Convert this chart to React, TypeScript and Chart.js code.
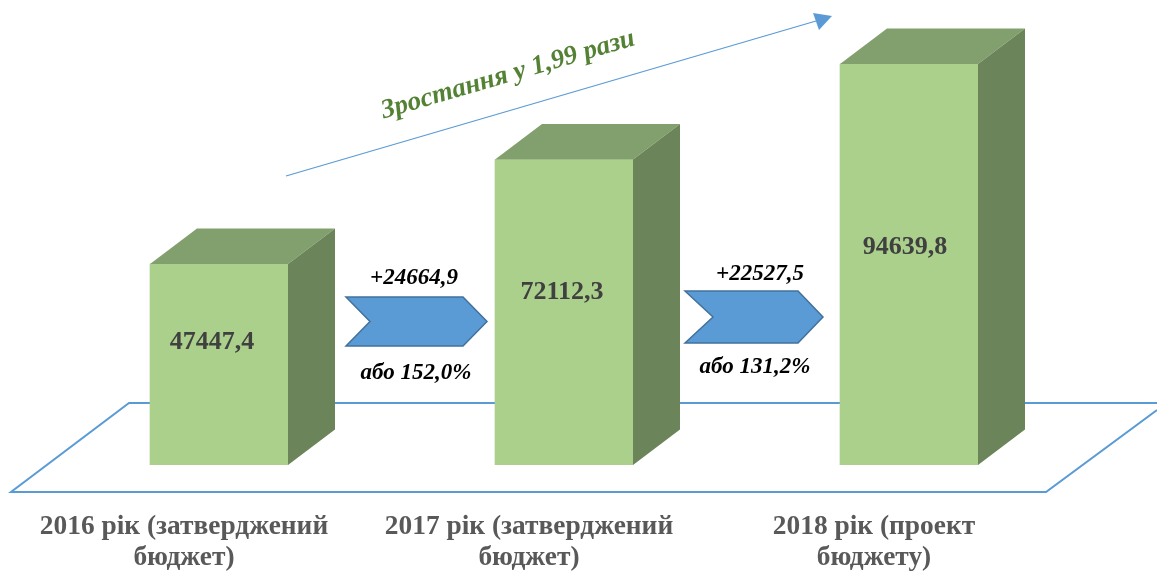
import React, { useEffect, useRef } from "react";
import { Chart, registerables } from "chart.js";

Chart.register(...registerables);

const categories = [
  ["2016 рік (затверджений", "бюджет)"],
  ["2017 рік (затверджений", "бюджет)"],
  ["2018 рік (проект", "бюджету)"],
];
const budgetValues = [47447.4, 72112.3, 94639.8];
const valueLabels = ["47447,4", "72112,3", "94639,8"];
const growthAbsolute = ["+24664,9", "+22527,5"];
const growthPercent = ["або 152,0%", "або 131,2%"];
const growthTitle = "Зростання у 1,99 рази";

const SERIF = '"Liberation Serif", "Times New Roman", serif';
const DEPTH_X = 47;
const DEPTH_Y = 35.5;

const poly = (ctx: CanvasRenderingContext2D, pts: number[][], fill?: string, stroke?: string, lw = 1) => {
  ctx.beginPath();
  pts.forEach(([x, y], i) => (i ? ctx.lineTo(x, y) : ctx.moveTo(x, y)));
  ctx.closePath();
  if (fill) {
    ctx.fillStyle = fill;
    ctx.fill();
  }
  if (stroke) {
    ctx.strokeStyle = stroke;
    ctx.lineWidth = lw;
    ctx.stroke();
  }
};

const text = (ctx: CanvasRenderingContext2D, s: string, x: number, y: number, font: string, color: string) => {
  ctx.font = font;
  ctx.fillStyle = color;
  ctx.textAlign = "center";
  ctx.textBaseline = "middle";
  ctx.fillText(s, x, y);
};

const decorations = {
  id: "decorations",
  beforeDatasetsDraw(chart: any) {
    const { ctx } = chart;
    ctx.save();
    // floor plane
    ctx.beginPath();
    ctx.moveTo(1157, 410);
    ctx.lineTo(1046, 492);
    ctx.lineTo(11, 492);
    ctx.lineTo(129, 403);
    ctx.lineTo(1157, 403);
    ctx.strokeStyle = "#5b9bd5";
    ctx.lineWidth = 2;
    ctx.stroke();
    ctx.restore();
  },
  afterDatasetsDraw(chart: any) {
    const { ctx } = chart;
    const bars = chart.getDatasetMeta(0).data;
    ctx.save();
    // 3D faces built on each bar
    bars.forEach((b: any, i: number) => {
      const half = b.width / 2;
      const l = b.x - half;
      const r = b.x + half;
      const top = b.y;
      const bottom = b.base;
      poly(ctx, [[l, top], [l + DEPTH_X, top - DEPTH_Y], [r + DEPTH_X, top - DEPTH_Y], [r, top]], "#82a06d");
      poly(ctx, [[r, top], [r + DEPTH_X, top - DEPTH_Y], [r + DEPTH_X, bottom - DEPTH_Y], [r, bottom]], "#6c8459");
      text(ctx, valueLabels[i], b.x + [-7, -2, -4][i], top + [78, 133, 183][i], `bold 26px ${SERIF}`, "#404040");
    });

    // chevrons between bars
    poly(ctx, [[346, 297], [463, 297], [487, 321.5], [463, 346], [346, 346], [370, 321.5]], "#5b9bd5", "#41719c", 1.5);
    poly(ctx, [[685, 291], [798, 291], [823, 317], [798, 343], [685, 343], [713, 317]], "#5b9bd5", "#41719c", 1.5);

    const absFont = `italic bold 23px ${SERIF}`;
    text(ctx, growthAbsolute[0], 414, 278, absFont, "#000000");
    text(ctx, growthPercent[0], 416, 373, absFont, "#000000");
    text(ctx, growthAbsolute[1], 760, 274, absFont, "#000000");
    text(ctx, growthPercent[1], 755, 367, absFont, "#000000");

    // trend arrow
    ctx.beginPath();
    ctx.moveTo(286, 176);
    ctx.lineTo(816, 21);
    ctx.strokeStyle = "#5b9bd5";
    ctx.lineWidth = 1.3;
    ctx.stroke();
    poly(ctx, [[832, 16], [813, 13], [819, 30]], "#5b9bd5");

    ctx.translate(508, 75);
    ctx.rotate((-16.3 * Math.PI) / 180);
    text(ctx, growthTitle, 0, 0, `italic bold 27px ${SERIF}`, "#548235");
    ctx.restore();
  },
};

export default function App() {
  const ref = useRef<HTMLCanvasElement | null>(null);
  useEffect(() => {
    document.body.style.margin = "0";
    const chart = new Chart(ref.current as HTMLCanvasElement, {
      type: "bar",
      data: {
        labels: categories,
        datasets: [
          {
            data: budgetValues,
            backgroundColor: "#aad08c",
            barThickness: 138,
          },
        ],
      },
      options: {
        responsive: false,
        animation: false,
        layout: { padding: { left: 46.5, right: 75.5, top: 41.4, bottom: 0 } },
        plugins: { legend: { display: false }, tooltip: { enabled: false } },
        scales: {
          y: { display: false, min: 0, max: 100000 },
          x: {
            grid: { display: false },
            border: { display: false },
            afterFit: (s: any) => {
              s.height = 107;
            },
            ticks: {
              autoSkip: false,
              maxRotation: 0,
              minRotation: 0,
              padding: 38,
              labelOffset: -35,
              color: "#595959",
              font: { family: SERIF, size: 27.4, weight: "bold", lineHeight: 1.14 },
            },
          },
        },
      },
      plugins: [decorations],
    } as any);
    return () => chart.destroy();
  }, []);
  return <canvas ref={ref} width={1157} height={572} style={{ display: "block" }} />;
}
